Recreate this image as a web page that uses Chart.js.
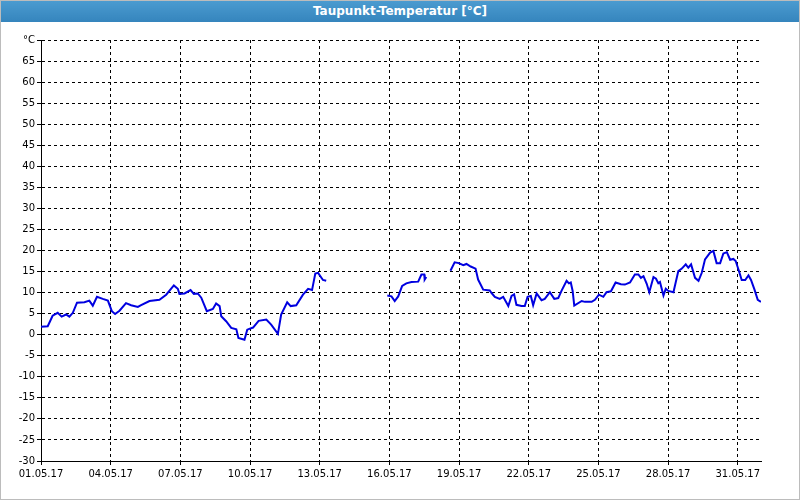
<!DOCTYPE html>
<html>
<head>
<meta charset="utf-8">
<script src="https://cdn.jsdelivr.net/npm/chart.js@4"></script>
<style>
  body { margin:0; background:#fff; }
  #wrap { position:relative; width:800px; height:500px; box-sizing:border-box; border:1px solid #bcbcbc; }
  #title { position:absolute; left:0; top:0; width:798px; height:21px; background:linear-gradient(#4b9bd0,#3585bd);
    color:#fff; font:bold 12px "DejaVu Sans", sans-serif; text-align:center; line-height:21px; }
  canvas { position:absolute; left:0; top:0; }
</style>
</head>
<body>
<div id="wrap">
  <canvas id="c" width="798" height="498"></canvas>
  <div id="title">Taupunkt-Temperatur [°C]</div>
</div>
<script>
// days since 01.05.17 00:00, null = gap
const days = [0,0.29,0.5,0.72,0.89,1.08,1.22,1.37,1.55,1.87,2.08,2.23,2.41,2.66,2.88,3.05,3.19,3.38,3.66,3.88,4.17,4.31,4.67,5.1,5.39,5.72,5.89,5.96,6.18,6.44,6.58,6.75,6.9,7.14,7.4,7.54,7.69,7.76,7.97,8.19,8.41,8.5,8.76,8.88,9.13,9.37,9.7,9.91,10.2,10.34,10.6,10.75,10.99,11.28,11.5,11.67,11.81,11.93,12.14,12.28,
  13.5,
  14.91,15.09,15.23,15.38,15.55,15.73,15.95,16.24,16.38,16.5,16.52,16.59,
  17.1,
  17.63,17.81,17.99,18.18,18.32,18.5,18.71,18.82,19.04,19.32,19.4,19.54,19.75,19.9,20.12,20.26,20.37,20.47,20.69,20.83,20.95,21.09,21.19,21.34,21.55,21.69,21.91,22.1,22.27,22.41,22.63,22.73,22.81,22.89,22.96,23.28,23.42,23.71,23.85,24.02,24.21,24.35,24.54,24.74,24.97,25.14,25.36,25.57,25.72,25.83,25.94,26.08,26.19,26.37,26.48,26.58,26.65,26.8,26.9,27.01,27.23,27.44,27.59,27.76,27.87,27.99,28.16,28.31,28.45,28.59,28.81,28.95,29.09,29.24,29.38,29.53,29.67,29.81,29.91,30.03,30.17,30.32,30.46,30.57,30.72,30.86,31];
const dewPoint = [1.9,2,4.5,5.2,4.3,4.8,4.3,5.2,7.6,7.7,8.1,6.9,9,8.5,8.1,5.6,4.9,5.7,7.5,7,6.6,7,8,8.3,9.5,11.7,10.9,9.7,9.8,10.6,9.7,9.8,8.8,5.6,6.1,7.4,6.8,4.4,3.2,1.6,1.3,-0.8,-1.2,1.2,1.7,3.3,3.6,2.4,0.2,4.8,7.7,6.8,7,9.5,10.9,10.6,14.5,14.7,13,12.8,
  null,
  9.3,9.1,8,9.1,11.6,12.2,12.5,12.6,14.3,14.3,13.1,13.7,
  null,
  15.2,17.2,17,16.5,16.8,16.2,15.7,13.1,10.7,10.5,9.9,9,8.5,9,6.8,9.2,9.6,7.1,6.8,6.8,9,9.2,7,9.8,8.2,8.5,10.1,8.5,8.7,10.4,12.8,12.2,12.4,10.4,6.9,8,7.8,7.8,8.3,9.5,9,10.1,10.3,12.4,12,11.9,12.4,14.3,14.3,13.5,13.9,12.1,10.1,13.7,13.3,12.2,12.5,9.3,10.9,10.4,10.1,15.1,15.7,16.7,15.9,16.7,13.5,12.8,14.7,17.9,19.5,19.9,17,17,19.3,19.6,17.8,18,17.5,15.5,13,13,14.1,13,10.7,8.3,7.8];
const dayTicks = [0,3,6,9,12,15,18,21,24,27,30];
const yMin = -30, yMax = 70, yStep = 5;

const font = { family: 'DejaVu Sans', size: 10 };
new Chart(document.getElementById('c'), {
  type: 'line',
  data: { datasets: [{
    data: days.map((d, i) => ({ x: d, y: dewPoint[i] })),
    borderColor: '#0000e0', borderWidth: 2, pointRadius: 0, spanGaps: false, tension: 0
  }]},
  options: {
    animation: false, responsive: false, events: [],
    layout: { padding: { top: 39, right: 38, left: 0, bottom: 0 } },
    plugins: { legend: { display: false }, tooltip: { enabled: false } },
    scales: {
      x: {
        type: 'linear', min: 0, max: 31,
        afterBuildTicks: a => { a.ticks = dayTicks.map(v => ({ value: v })); },
        afterFit: a => { a.height = 38; },
        grid: { color: '#000', tickLength: 4, tickColor: '#000' },
        border: { color: '#000', dash: [3, 3] },
        ticks: { color: '#000', font, maxRotation: 0, autoSkip: false,
          callback: v => String(v + 1).padStart(2, '0') + '.05.17' }
      },
      y: {
        min: yMin, max: yMax,
        afterFit: a => { a.width = 40; },
        grid: { color: '#000', tickLength: 4, tickColor: '#000' },
        border: { color: '#000', dash: [3, 3] },
        ticks: { stepSize: yStep, color: '#000', font, padding: 2,
          callback: v => v === yMax ? '°C' : v }
      }
    }
  },
  plugins: [{
    id: 'frame',
    beforeDatasetsDraw(ch) {
      const { ctx, chartArea: a } = ch;
      ctx.save();
      ctx.strokeStyle = '#000'; ctx.lineWidth = 1; ctx.setLineDash([]);
      ctx.beginPath();
      ctx.moveTo(a.left + 0.5, a.top); ctx.lineTo(a.left + 0.5, a.bottom + 0.5); ctx.lineTo(a.right, a.bottom + 0.5);
      ctx.stroke();
      ctx.restore();
    }
  }]
});
// dashed grid lines
Chart.defaults.borderDash = [3, 3];
</script>
</body>
</html>
